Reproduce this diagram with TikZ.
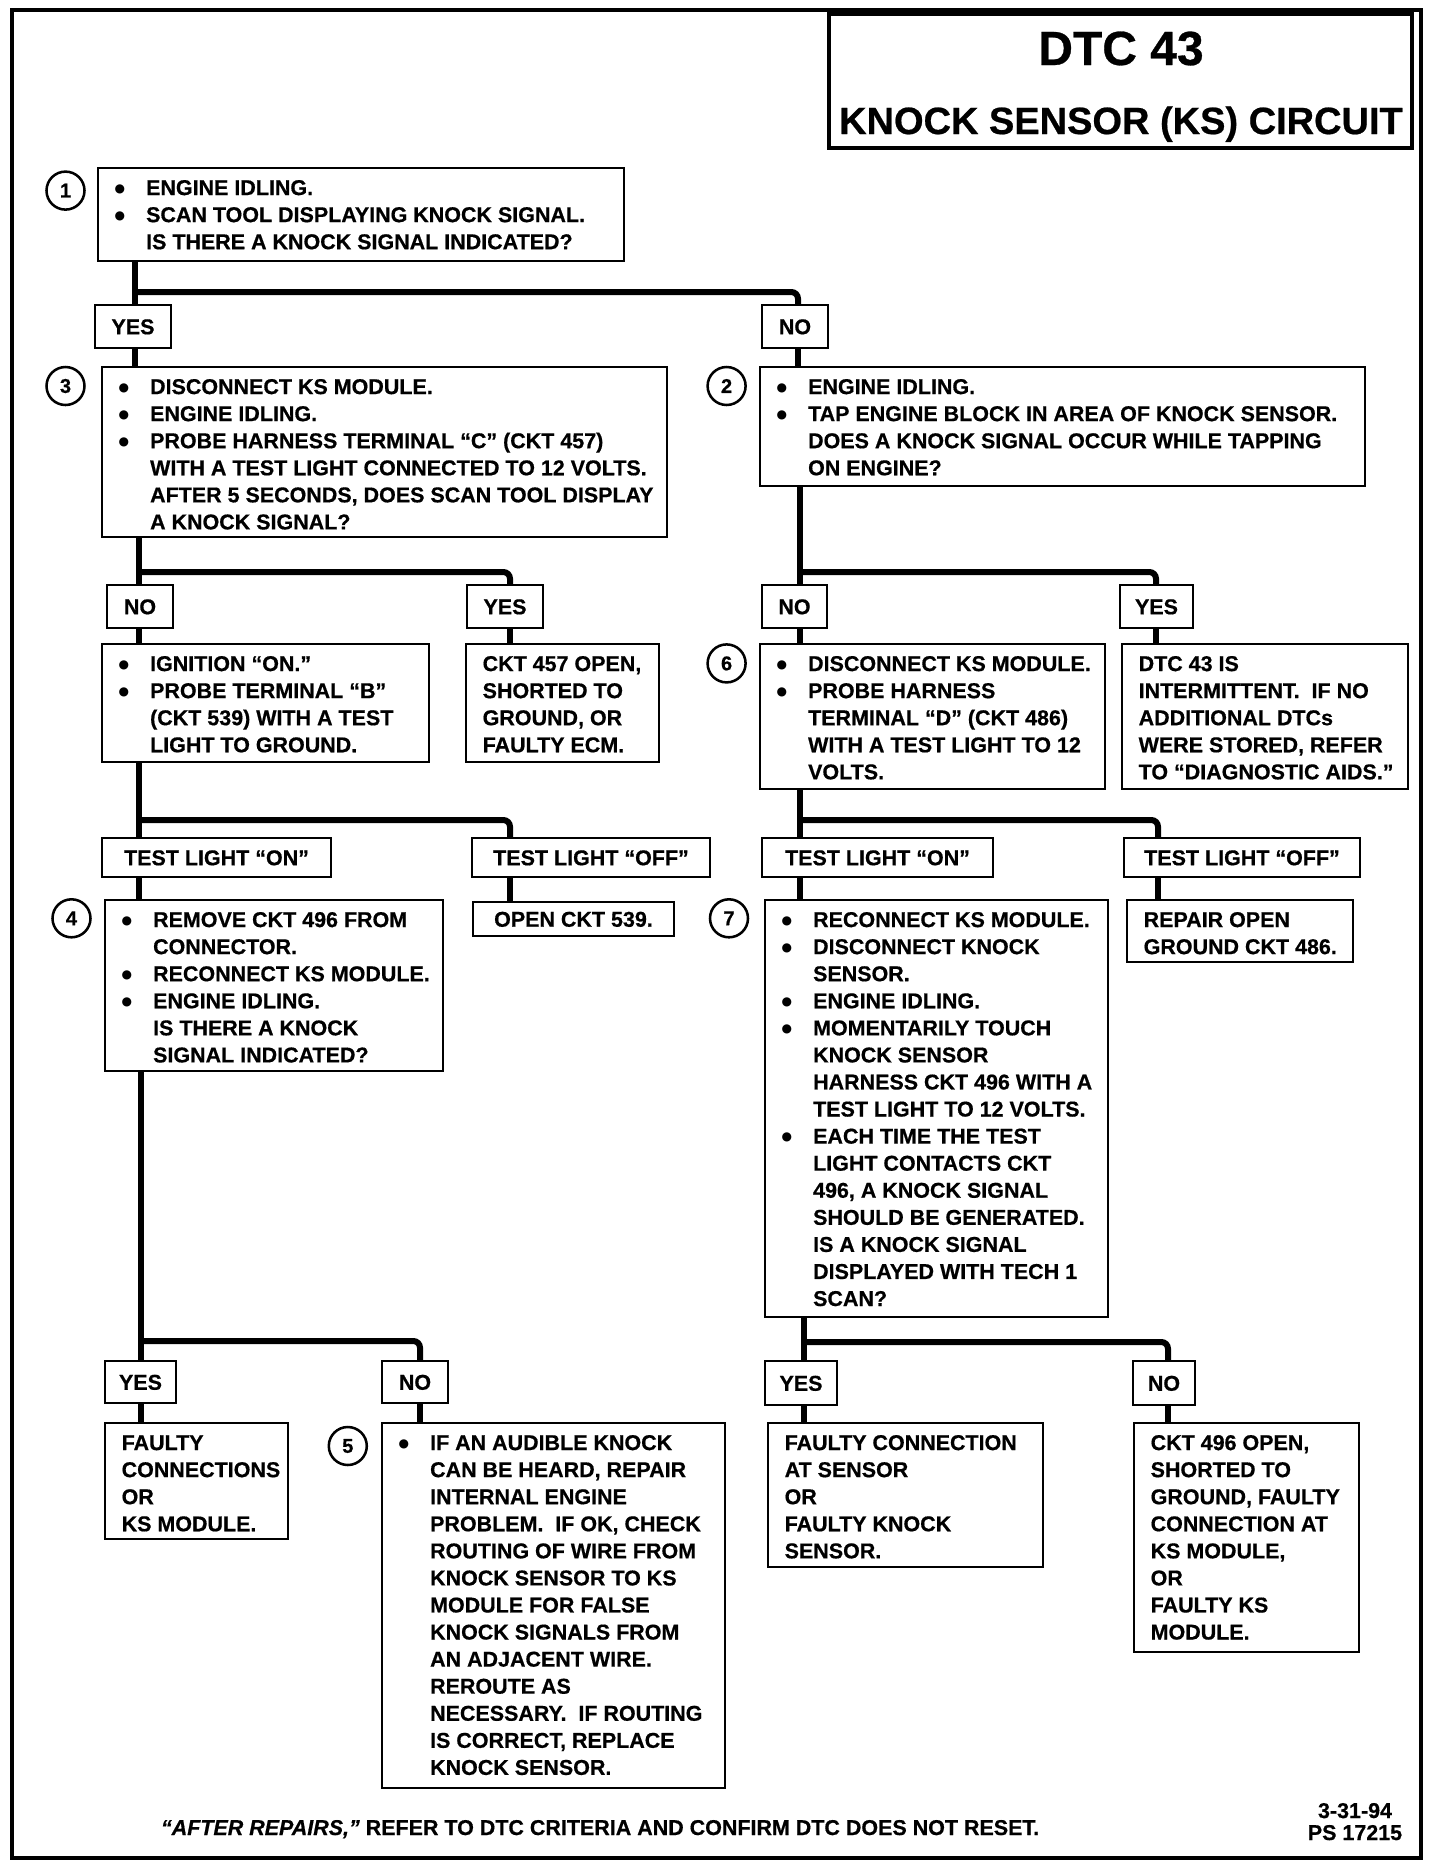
\documentclass[tikz,border=0pt]{standalone}
\usepackage{fontspec}
\setmainfont{Liberation Sans}[BoldFeatures={FakeBold=0.6},BoldItalicFeatures={FakeBold=0.6}]
\newfontfamily\symf{DejaVu Sans}
\usetikzlibrary{calc}
\newcommand\txtfont{\fontsize{16.1}{20.3}\selectfont\bfseries}
\newcommand\bl{\makebox[23.6pt][l]{\raisebox{2.2pt}{\symf\fontsize{9}{9}\selectfont ●}}}
\newcommand\ii{\hspace*{23.6pt}}
\tikzset{
  conn/.style={line width=4.5pt},
  rc/.style={rounded corners=5pt},
  boxs/.style={draw, rectangle, line width=1.9pt, inner sep=0pt, outer sep=0pt},
  lbl/.style={draw, rectangle, line width=1.9pt, inner sep=0pt, outer sep=0pt, font=\txtfont, text height=11.6pt, text depth=0pt},
  txt/.style={inner sep=0pt, outer sep=0pt, font=\txtfont},
  num/.style={draw, circle, line width=1.9pt, minimum size=28.5pt, inner sep=0pt, font=\bfseries\fontsize{15}{15}\selectfont}
}
% name, x1, y1, x2, y2, content
\newcommand\bbox[6]{%
  \node[boxs, anchor=north west, minimum width={(#4-#2)*0.75pt}, minimum height={(#5-#3)*0.75pt}] (#1) at (#2,#3) {};
  \node[txt, anchor=base west] (#1t) at ([xshift=12.5pt,yshift=-20.3pt]#1.north west) {\begin{tabular}[t]{@{}l@{}}#6\end{tabular}};}
\newcommand\lbox[6]{%
  \node[lbl, anchor=north west, minimum width={(#4-#2)*0.75pt}, minimum height={(#5-#3)*0.75pt}] (#1) at (#2,#3) {#6};}
\begin{document}
\begin{tikzpicture}[x=0.75pt, y=-0.75pt]
\useasboundingbox (0,0) rectangle (1440,1868);
\draw[line width=2.6pt] (12,10) rectangle (1421,1858);

% title
\node[boxs, line width=2.8pt, anchor=north west, minimum width={(1412-829)*0.75pt}, minimum height={(148-14)*0.75pt}] (title) at (829,14) {};
\node[font=\bfseries\fontsize{36}{36}\selectfont, anchor=base, inner sep=0pt] (t1) at (1121,65) {DTC 43};
\node[font=\bfseries\fontsize{28.5}{28.5}\selectfont, anchor=base, inner sep=0pt] (t2) at (1121,134) {KNOCK SENSOR (KS) CIRCUIT};

% step numbers
\node[num] (c1) at (65.5,190.6) {1};
\node[num] (c3) at (65.5,386) {3};
\node[num] (c2) at (726.6,386) {2};
\node[num] (c6) at (726.6,663.4) {6};
\node[num] (c4) at (71.5,918.3) {4};
\node[num] (c7) at (729,918.3) {7};
\node[num] (c5) at (347.8,1446) {5};

% boxes
\bbox{b1}{98}{168}{624}{261}{\bl ENGINE IDLING.\\
\bl SCAN TOOL DISPLAYING KNOCK SIGNAL.\\
\ii IS THERE A KNOCK SIGNAL INDICATED?}
\lbox{y1}{95}{305}{171}{348}{YES}
\lbox{n1}{762}{305}{828}{348}{NO}
\bbox{b3}{102}{367}{667}{537}{\bl DISCONNECT KS MODULE.\\
\bl ENGINE IDLING.\\
\bl PROBE HARNESS TERMINAL “C” (CKT 457)\\
\ii WITH A TEST LIGHT CONNECTED TO 12 VOLTS.\\
\ii AFTER 5 SECONDS, DOES SCAN TOOL DISPLAY\\
\ii A KNOCK SIGNAL?}
\bbox{b2}{760}{367}{1365}{486}{\bl ENGINE IDLING.\\
\bl TAP ENGINE BLOCK IN AREA OF KNOCK SENSOR.\\
\ii DOES A KNOCK SIGNAL OCCUR WHILE TAPPING\\
\ii ON ENGINE?}
\lbox{n3}{107}{585}{173}{628}{NO}
\lbox{y3}{467}{585}{543}{628}{YES}
\lbox{n2}{762}{585}{827}{628}{NO}
\lbox{y2}{1120}{585}{1193}{628}{YES}
\bbox{b3n}{102}{644}{429}{762}{\bl IGNITION “ON.”\\
\bl PROBE TERMINAL “B”\\
\ii (CKT 539) WITH A TEST\\
\ii LIGHT TO GROUND.}
\bbox{b3y}{466}{644}{659}{762}{CKT 457 OPEN,\\ SHORTED TO\\ GROUND, OR\\ FAULTY ECM.}
\bbox{b6}{760}{644}{1105}{789}{\bl DISCONNECT KS MODULE.\\
\bl PROBE HARNESS\\
\ii TERMINAL “D” (CKT 486)\\
\ii WITH A TEST LIGHT TO 12\\
\ii VOLTS.}
\bbox{b2y}{1122}{644}{1408}{789}{DTC 43 IS\\ INTERMITTENT.\ \ IF NO\\ ADDITIONAL DTCs\\ WERE STORED, REFER\\ TO “DIAGNOSTIC AIDS.”}
\lbox{tla}{102}{838}{331}{877}{TEST LIGHT “ON”}
\lbox{tlb}{472}{838}{710}{877}{TEST LIGHT “OFF”}
\lbox{tlc}{762}{838}{993}{877}{TEST LIGHT “ON”}
\lbox{tld}{1124}{838}{1360}{877}{TEST LIGHT “OFF”}
\bbox{b4}{105}{900}{443}{1071}{\bl REMOVE CKT 496 FROM\\
\ii CONNECTOR.\\
\bl RECONNECT KS MODULE.\\
\bl ENGINE IDLING.\\
\ii IS THERE A KNOCK\\
\ii SIGNAL INDICATED?}
\lbox{b539}{473}{902}{674}{936}{OPEN CKT 539.}
\bbox{b7}{765}{900}{1108}{1317}{\bl RECONNECT KS MODULE.\\
\bl DISCONNECT KNOCK\\
\ii SENSOR.\\
\bl ENGINE IDLING.\\
\bl MOMENTARILY TOUCH\\
\ii KNOCK SENSOR\\
\ii HARNESS CKT 496 WITH A\\
\ii TEST LIGHT TO 12 VOLTS.\\
\bl EACH TIME THE TEST\\
\ii LIGHT CONTACTS CKT\\
\ii 496, A KNOCK SIGNAL\\
\ii SHOULD BE GENERATED.\\
\ii IS A KNOCK SIGNAL\\
\ii DISPLAYED WITH TECH 1\\
\ii SCAN?}
\bbox{brep}{1127}{900}{1353}{962}{REPAIR OPEN\\ GROUND CKT 486.}
\lbox{y4}{105}{1361}{176}{1403}{YES}
\lbox{n4}{382}{1361}{448}{1403}{NO}
\lbox{y7}{765}{1361}{837}{1405}{YES}
\lbox{n7}{1133}{1361}{1195}{1405}{NO}
\bbox{bfc}{105}{1423}{288}{1539}{FAULTY\\ CONNECTIONS\\ OR\\ KS MODULE.}
\bbox{b5}{382}{1423}{725}{1788}{\bl IF AN AUDIBLE KNOCK\\
\ii CAN BE HEARD, REPAIR\\
\ii INTERNAL ENGINE\\
\ii PROBLEM.\ \ IF OK, CHECK\\
\ii ROUTING OF WIRE FROM\\
\ii KNOCK SENSOR TO KS\\
\ii MODULE FOR FALSE\\
\ii KNOCK SIGNALS FROM\\
\ii AN ADJACENT WIRE.\\
\ii REROUTE AS\\
\ii NECESSARY.\ \ IF ROUTING\\
\ii IS CORRECT, REPLACE\\
\ii KNOCK SENSOR.}
\bbox{bfs}{768}{1423}{1043}{1567}{FAULTY CONNECTION\\ AT SENSOR\\ OR\\ FAULTY KNOCK\\ SENSOR.}
\bbox{b496}{1134}{1423}{1359}{1652}{CKT 496 OPEN,\\ SHORTED TO\\ GROUND, FAULTY\\ CONNECTION AT\\ KS MODULE,\\ OR\\ FAULTY KS\\ MODULE.}

% footer
\node[txt, anchor=base west] (foot) at (161,1835) {\textit{“AFTER REPAIRS,”} REFER TO DTC CRITERIA AND CONFIRM DTC DOES NOT RESET.};
\node[txt, anchor=base] (date) at (1355,1818) {\begin{tabular}[t]{@{}c@{}}3-31-94\\[-3.8pt]PS 17215\end{tabular}};

% connector guides
\coordinate (xa) at (135,0);
\coordinate (xb) at (798,0);
\coordinate (xc) at (139,0);
\coordinate (xd) at (510,0);
\coordinate (xe) at (141,0);
\coordinate (xf) at (420,0);
\coordinate (xg) at (800,0);
\coordinate (xh) at (1156,0);
\coordinate (xi) at (1158,0);
\coordinate (xj) at (804,0);
\coordinate (xk) at (1168,0);
\coordinate (ha) at (0,292);
\coordinate (hb) at (0,572);
\coordinate (hc) at (0,820);
\coordinate (hd) at (0,1341);
\coordinate (he) at (0,1342);

% level 1
\draw[conn] (b1.south -| xa) -- (y1.north -| xa);
\draw[conn] (y1.south -| xa) -- (b3.north -| xa);
\draw[conn, rc] (xa |- ha) -| (n1.north -| xb);
\draw[conn] (n1.south -| xb) -- (b2.north -| xb);
% level 2 left
\draw[conn] (b3.south -| xc) -- (n3.north -| xc);
\draw[conn] (n3.south -| xc) -- (b3n.north -| xc);
\draw[conn, rc] (xc |- hb) -| (y3.north -| xd);
\draw[conn] (y3.south -| xd) -- (b3y.north -| xd);
% level 3 left
\draw[conn] (b3n.south -| xc) -- (tla.north -| xc);
\draw[conn] (tla.south -| xc) -- (b4.north -| xc);
\draw[conn, rc] (xc |- hc) -| (tlb.north -| xd);
\draw[conn] (tlb.south -| xd) -- (b539.north -| xd);
% level 4 left
\draw[conn] (b4.south -| xe) -- (y4.north -| xe);
\draw[conn] (y4.south -| xe) -- (bfc.north -| xe);
\draw[conn, rc] (xe |- hd) -| (n4.north -| xf);
\draw[conn] (n4.south -| xf) -- (b5.north -| xf);
% level 2 right
\draw[conn] (b2.south -| xg) -- (n2.north -| xg);
\draw[conn] (n2.south -| xg) -- (b6.north -| xg);
\draw[conn, rc] (xg |- hb) -| (y2.north -| xh);
\draw[conn] (y2.south -| xh) -- (b2y.north -| xh);
% level 3 right
\draw[conn] (b6.south -| xg) -- (tlc.north -| xg);
\draw[conn] (tlc.south -| xg) -- (b7.north -| xg);
\draw[conn, rc] (xg |- hc) -| (tld.north -| xi);
\draw[conn] (tld.south -| xi) -- (brep.north -| xi);
% level 4 right
\draw[conn] (b7.south -| xj) -- (y7.north -| xj);
\draw[conn] (y7.south -| xj) -- (bfs.north -| xj);
\draw[conn, rc] (xj |- he) -| (n7.north -| xk);
\draw[conn] (n7.south -| xk) -- (b496.north -| xk);
\end{tikzpicture}
\end{document}
